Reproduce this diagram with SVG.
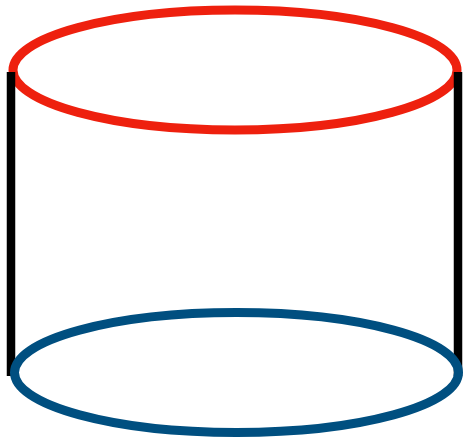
<svg xmlns="http://www.w3.org/2000/svg" width="463" height="441" viewBox="0 0 463 441">
<style>
.top{fill:none;stroke:#ee200e;stroke-width:9}
.bot{fill:none;stroke:#004f80;stroke-width:9}
.side{stroke:#000;stroke-width:8.5}
</style>
<rect width="463" height="441" fill="#fff"/>
<g id="top"><ellipse class="top" cx="235" cy="70" rx="222" ry="60"/></g>
<g id="connectors">
<line class="side" x1="11" y1="72" x2="11" y2="376"/>
<line class="side" x1="458" y1="72" x2="458" y2="376"/>
</g>
<g id="bottom"><ellipse class="bot" cx="236.5" cy="372.5" rx="222" ry="60"/></g>
</svg>
